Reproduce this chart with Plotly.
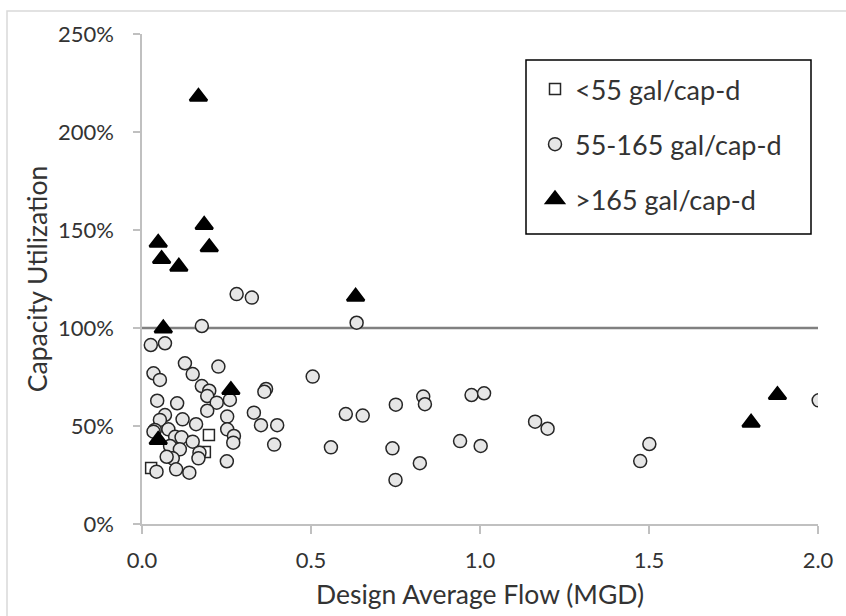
import plotly.graph_objects as go

# ---------------- data ----------------
sq_x = [0.027, 0.186, 0.198]
sq_y = [0.286, 0.367, 0.454]

circ_x = [0.635, 0.505, 0.603, 0.653, 0.751, 0.832, 0.837, 0.975, 1.012, 0.559,
          0.741, 0.822, 0.941, 1.002, 1.163, 1.200, 1.501, 1.474, 2.002, 0.750,
          0.177, 0.026, 0.068, 0.127, 0.226, 0.150, 0.034, 0.053, 0.177, 0.199,
          0.193, 0.221, 0.260, 0.252, 0.252, 0.272, 0.270, 0.251, 0.331, 0.352,
          0.400, 0.391, 0.367, 0.362, 0.193, 0.160, 0.120, 0.104, 0.045, 0.068,
          0.053, 0.078, 0.038, 0.034, 0.098, 0.117, 0.083, 0.112, 0.150, 0.170,
          0.167, 0.091, 0.101, 0.140, 0.043, 0.073, 0.280, 0.325]
circ_y = [1.027, 0.752, 0.561, 0.553, 0.609, 0.650, 0.611, 0.658, 0.667, 0.391,
          0.386, 0.310, 0.423, 0.398, 0.522, 0.486, 0.408, 0.321, 0.631, 0.225,
          1.010, 0.913, 0.922, 0.820, 0.803, 0.765, 0.769, 0.735, 0.704, 0.680,
          0.653, 0.619, 0.633, 0.548, 0.483, 0.449, 0.415, 0.320, 0.568, 0.504,
          0.504, 0.405, 0.689, 0.675, 0.578, 0.509, 0.534, 0.616, 0.629, 0.556,
          0.531, 0.483, 0.480, 0.471, 0.445, 0.442, 0.398, 0.381, 0.420, 0.364,
          0.335, 0.335, 0.279, 0.262, 0.267, 0.343, 1.173, 1.155]

tri_x = [0.167, 0.184, 0.199, 0.048, 0.058, 0.109, 0.063, 0.632, 0.263, 0.048, 1.880, 1.802]
tri_y = [2.180, 1.526, 1.412, 1.435, 1.352, 1.313, 0.998, 1.160, 0.684, 0.429, 0.658, 0.517]

ref_x = [0.0, 2.0]
ref_y = [1.0, 1.0]

series_names = ["<55 gal/cap-d", "55-165 gal/cap-d", ">165 gal/cap-d"]
x_ticks = [0.0, 0.5, 1.0, 1.5, 2.0]
x_tick_text = ["0.0", "0.5", "1.0", "1.5", "2.0"]
y_ticks = [0.0, 0.5, 1.0, 1.5, 2.0, 2.5]
y_tick_text = ["0%", "50%", "100%", "150%", "200%", "250%"]

# ---------------- layout geometry ----------------
W, H = 846, 616
L, R, T, B = 142, 818, 34, 524
FONT = "Lato"
TXT = "#333333"


def pxx(px):
    return (px - L) / (R - L)


def pyy(py):
    return (B - py) / (B - T)


fig = go.Figure()

fig.add_trace(go.Scatter(x=ref_x, y=ref_y, mode="lines",
                         line=dict(color="#808080", width=2.6),
                         showlegend=False, hoverinfo="skip"))

fig.add_trace(go.Scatter(x=sq_x, y=sq_y, mode="markers", name=series_names[0],
                         legendgroup="a",
                         marker=dict(symbol="square", size=11, color="white",
                                     line=dict(color="#262626", width=1.5))))

fig.add_trace(go.Scatter(x=circ_x, y=circ_y, mode="markers", name=series_names[1],
                         legendgroup="b",
                         marker=dict(symbol="circle", size=13, color="#e6e6e6",
                                     line=dict(color="#262626", width=1.5))))

fig.add_trace(go.Scatter(x=tri_x, y=tri_y, mode="markers", name=series_names[2],
                         legendgroup="c",
                         marker=dict(symbol="triangle-up", size=15, color="black",
                                     line=dict(color="black", width=2.5))))

axis_common = dict(showgrid=False, zeroline=False, showline=True,
                   linecolor="#c0c0c0", linewidth=1.5, ticks="outside",
                   tickcolor="#c0c0c0", tickwidth=1.5,
                   tickfont=dict(family=FONT, size=22, color=TXT))

fig.update_xaxes(range=[0, 2], tickvals=x_ticks, ticktext=x_tick_text,
                 ticklen=8, ticklabelstandoff=8,
                 title=dict(text="Design Average Flow (MGD)",
                            font=dict(family=FONT, size=26.5, color=TXT),
                            standoff=13),
                 **axis_common)
fig.update_yaxes(range=[0, 2.5], tickvals=y_ticks, ticktext=y_tick_text,
                 ticklen=7, ticklabelstandoff=15,
                 title=dict(text="Capacity Utilization",
                            font=dict(family=FONT, size=26.5, color=TXT),
                            standoff=3),
                 **axis_common)

shapes = [
    # outer chart border (only left/top visible in the crop)
    dict(type="rect", xref="paper", yref="paper",
         x0=pxx(7), x1=pxx(880), y0=pyy(660), y1=pyy(11),
         line=dict(color="#d9d9d9", width=1.5), layer="below"),
    # legend frame
    dict(type="rect", xref="paper", yref="paper",
         x0=pxx(526), x1=pxx(811), y0=pyy(234), y1=pyy(60),
         line=dict(color="black", width=1.5), layer="above"),
]

fig.update_layout(
    width=W, height=H,
    margin=dict(l=L, r=W - R, t=T, b=H - B, autoexpand=False),
    paper_bgcolor="white", plot_bgcolor="white",
    font=dict(family=FONT, color=TXT),
    shapes=shapes,
    showlegend=True,
    legend=dict(x=pxx(535), y=pyy(65), xanchor="left", yanchor="top",
                bgcolor="rgba(0,0,0,0)", borderwidth=0,
                traceorder="grouped", tracegroupgap=17,
                font=dict(family=FONT, size=27, color=TXT),
                itemsizing="trace"),
)

fig.write_html("out.html")
